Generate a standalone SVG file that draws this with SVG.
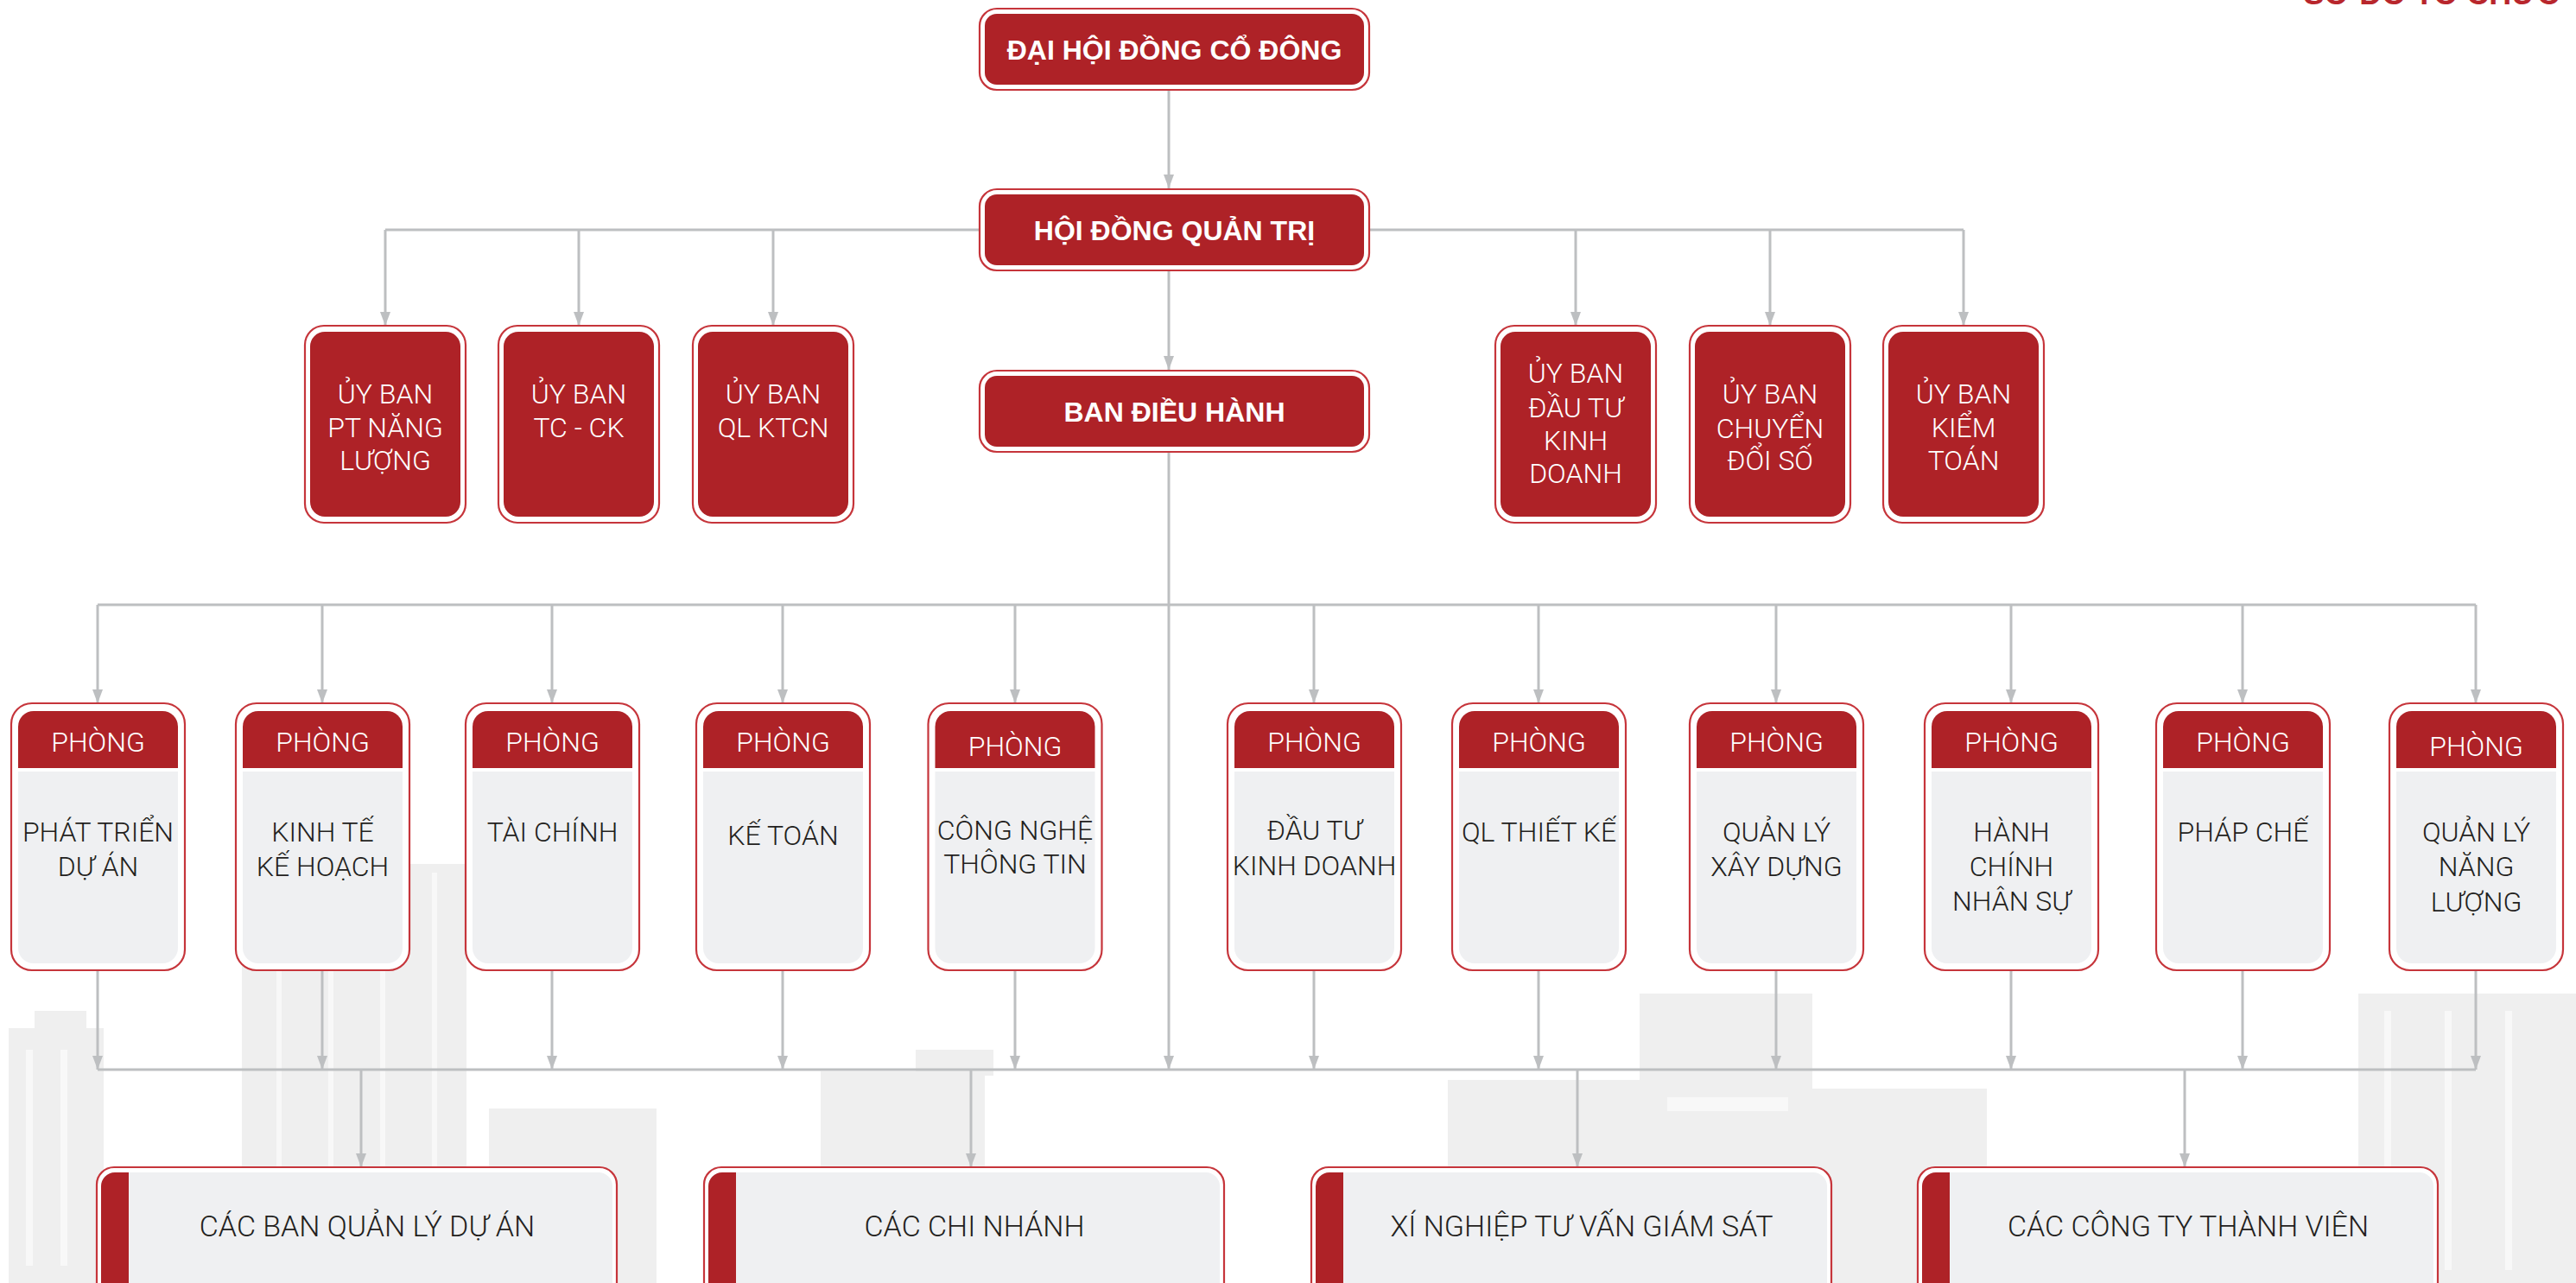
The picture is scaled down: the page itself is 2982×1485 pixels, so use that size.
<svg xmlns="http://www.w3.org/2000/svg" xmlns:xlink="http://www.w3.org/1999/xlink" width="2982" height="1485" viewBox="0 0 2982 1485">
<style>
.conn{stroke:#BDBFC1;stroke-width:3;fill:none}
.arr{marker-end:url(#ah)}
.outer{fill:#fff;stroke:#C6353B;stroke-width:2.2}
.red{fill:#AE2227}
.grey{fill:#EFF0F2}
.bg{fill:#EFEFEF}
.win{fill:#F8F8F8}
.tb{font-family:"Liberation Sans",Arial,sans-serif;font-weight:bold;font-size:32px;fill:#fff;text-anchor:middle}
.tw{font-family:Roboto,"Liberation Sans",sans-serif;font-weight:300;font-size:32px;fill:#fff;text-anchor:middle}
.td{font-family:Roboto,"Liberation Sans",sans-serif;font-weight:300;font-size:32px;fill:#231F20;text-anchor:middle}
.tl{font-family:Roboto,"Liberation Sans",sans-serif;font-weight:300;font-size:34px;fill:#231F20;text-anchor:middle}
.title{font-family:"Liberation Sans",Arial,sans-serif;font-weight:bold;font-size:36px;fill:#B8262C;text-anchor:end}
</style>
<defs>
<marker id="ah" markerUnits="userSpaceOnUse" markerWidth="16" markerHeight="14" viewBox="0 0 16 14" refX="16" refY="7" orient="auto">
<path d="M0,1 L16,7 L0,13 Z" fill="#BDBFC1"/>
</marker>
<g id="topShape">
<rect class="outer" x="1" y="1" width="451" height="94" rx="20"/>
<rect class="red" x="7" y="7" width="439" height="82" rx="14"/>
</g>
<g id="comShape">
<rect class="outer" x="1" y="377" width="186" height="228" rx="22"/>
<rect class="red" x="7" y="384" width="174" height="214" rx="17"/>
</g>
<g id="deptShape">
<rect class="outer" x="1" y="814" width="201" height="309" rx="24"/>
<path class="red" d="M9,889 v-48 a18,18 0 0 1 18,-18 h149 a18,18 0 0 1 18,18 v48 z"/>
<path class="grey" d="M9,893 h185 v204 a18,18 0 0 1 -18,18 h-149 a18,18 0 0 1 -18,-18 z"/>
</g>
<g id="botShape">
<rect class="outer" x="1" y="1351" width="602" height="170" rx="20"/>
<rect class="grey" x="6" y="1357" width="592" height="200" rx="16"/>
<path class="red" d="M38,1357 H22 a16,16 0 0 0 -16,16 V1560 H38 z"/>
</g>
</defs>

<g id="background">
<rect class="bg" x="10" y="1190" width="110" height="295"/>
<rect class="bg" x="40" y="1170" width="60" height="30"/>
<rect class="win" x="30" y="1215" width="8" height="250"/>
<rect class="win" x="70" y="1215" width="8" height="250"/>
<rect class="bg" x="280" y="1000" width="260" height="485"/>
<rect class="win" x="320" y="1010" width="6" height="460"/>
<rect class="win" x="380" y="1010" width="6" height="460"/>
<rect class="win" x="440" y="1010" width="6" height="460"/>
<rect class="win" x="500" y="1010" width="6" height="460"/>
<rect class="bg" x="566" y="1283" width="194" height="202"/>
<rect class="bg" x="950" y="1240" width="190" height="245"/>
<rect class="bg" x="1060" y="1215" width="90" height="30"/>
<rect class="bg" x="1676" y="1250" width="230" height="235"/>
<rect class="bg" x="1796" y="1260" width="504" height="225"/>
<rect class="bg" x="1898" y="1150" width="200" height="115"/>
<rect class="win" x="1930" y="1270" width="140" height="16"/>
<rect class="bg" x="2060" y="1320" width="180" height="165"/>
<rect class="bg" x="2730" y="1150" width="252" height="335"/>
<rect class="win" x="2760" y="1170" width="8" height="300"/>
<rect class="win" x="2830" y="1170" width="8" height="300"/>
<rect class="win" x="2900" y="1170" width="8" height="300"/>
</g>

<text class="title" x="2963" y="5">SƠ ĐỒ TỔ CHỨC</text>

<g id="connectors">
<path class="conn arr" d="M1353,105 V218"/>
<path class="conn arr" d="M1353,314 V428"/>
<path class="conn arr" d="M1353,523 V1238"/>
<path class="conn" d="M446,266 H2273"/>
<path class="conn arr" d="M446,266 V377"/>
<path class="conn arr" d="M670,266 V377"/>
<path class="conn arr" d="M895,266 V377"/>
<path class="conn arr" d="M1824,266 V377"/>
<path class="conn arr" d="M2049,266 V377"/>
<path class="conn arr" d="M2273,266 V377"/>
<path class="conn" d="M113,700 H2866"/>
<path class="conn arr" d="M113,700 V814"/>
<path class="conn arr" d="M373,700 V814"/>
<path class="conn arr" d="M639,700 V814"/>
<path class="conn arr" d="M906,700 V814"/>
<path class="conn arr" d="M1175,700 V814"/>
<path class="conn arr" d="M1521,700 V814"/>
<path class="conn arr" d="M1781,700 V814"/>
<path class="conn arr" d="M2056,700 V814"/>
<path class="conn arr" d="M2328,700 V814"/>
<path class="conn arr" d="M2596,700 V814"/>
<path class="conn arr" d="M2866,700 V814"/>
<path class="conn arr" d="M113,1123 V1238"/>
<path class="conn arr" d="M373,1123 V1238"/>
<path class="conn arr" d="M639,1123 V1238"/>
<path class="conn arr" d="M906,1123 V1238"/>
<path class="conn arr" d="M1175,1123 V1238"/>
<path class="conn arr" d="M1521,1123 V1238"/>
<path class="conn arr" d="M1781,1123 V1238"/>
<path class="conn arr" d="M2056,1123 V1238"/>
<path class="conn arr" d="M2328,1123 V1238"/>
<path class="conn arr" d="M2596,1123 V1238"/>
<path class="conn arr" d="M2866,1123 V1238"/>
<path class="conn" d="M113,1238 H2866"/>
<path class="conn arr" d="M418,1238 V1351"/>
<path class="conn arr" d="M1124,1238 V1351"/>
<path class="conn arr" d="M1826,1238 V1351"/>
<path class="conn arr" d="M2529,1238 V1351"/>
</g>

<g id="dhdcd" transform="translate(1133,9)">
<use xlink:href="#topShape"/>
<text class="tb" x="226.5" y="60">ĐẠI HỘI ĐỒNG CỔ ĐÔNG</text>
</g>
<g id="hdqt" transform="translate(1133,218)">
<use xlink:href="#topShape"/>
<text class="tb" x="226.5" y="60">HỘI ĐỒNG QUẢN TRỊ</text>
</g>
<g id="bdh" transform="translate(1133,428)">
<use xlink:href="#topShape"/>
<text class="tb" x="226.5" y="60">BAN ĐIỀU HÀNH</text>
</g>

<g id="ub-ptnl" transform="translate(352,0)">
<use xlink:href="#comShape"/>
<text class="tw"><tspan x="94" y="467">ỦY BAN</tspan><tspan x="94" y="506">PT NĂNG</tspan><tspan x="94" y="544">LƯỢNG</tspan></text>
</g>
<g id="ub-tcck" transform="translate(576,0)">
<use xlink:href="#comShape"/>
<text class="tw"><tspan x="94" y="467">ỦY BAN</tspan><tspan x="94" y="506">TC - CK</tspan></text>
</g>
<g id="ub-qlktcn" transform="translate(801,0)">
<use xlink:href="#comShape"/>
<text class="tw"><tspan x="94" y="467">ỦY BAN</tspan><tspan x="94" y="506">QL KTCN</tspan></text>
</g>
<g id="ub-dtkd" transform="translate(1730,0)">
<use xlink:href="#comShape"/>
<text class="tw"><tspan x="94" y="443">ỦY BAN</tspan><tspan x="94" y="483">ĐẦU TƯ</tspan><tspan x="94" y="521">KINH</tspan><tspan x="94" y="559">DOANH</tspan></text>
</g>
<g id="ub-cds" transform="translate(1955,0)">
<use xlink:href="#comShape"/>
<text class="tw"><tspan x="94" y="467">ỦY BAN</tspan><tspan x="94" y="507">CHUYỂN</tspan><tspan x="94" y="544">ĐỔI SỐ</tspan></text>
</g>
<g id="ub-kt" transform="translate(2179,0)">
<use xlink:href="#comShape"/>
<text class="tw"><tspan x="94" y="467">ỦY BAN</tspan><tspan x="94" y="506">KIỂM</tspan><tspan x="94" y="544">TOÁN</tspan></text>
</g>

<g id="p-ptda" transform="translate(12,0)">
<use xlink:href="#deptShape"/>
<text class="tw" x="101.5" y="870">PHÒNG</text>
<text class="td"><tspan x="101.5" y="974">PHÁT TRIỂN</tspan><tspan x="101.5" y="1014">DỰ ÁN</tspan></text>
</g>
<g id="p-ktkh" transform="translate(272,0)">
<use xlink:href="#deptShape"/>
<text class="tw" x="101.5" y="870">PHÒNG</text>
<text class="td"><tspan x="101.5" y="974">KINH TẾ</tspan><tspan x="101.5" y="1014">KẾ HOẠCH</tspan></text>
</g>
<g id="p-tc" transform="translate(538,0)">
<use xlink:href="#deptShape"/>
<text class="tw" x="101.5" y="870">PHÒNG</text>
<text class="td" x="101.5" y="974">TÀI CHÍNH</text>
</g>
<g id="p-kt" transform="translate(805,0)">
<use xlink:href="#deptShape"/>
<text class="tw" x="101.5" y="870">PHÒNG</text>
<text class="td" x="101.5" y="978">KẾ TOÁN</text>
</g>
<g id="p-cntt" transform="translate(1073.5,0)">
<use xlink:href="#deptShape"/>
<text class="tw" x="101.5" y="875">PHÒNG</text>
<text class="td"><tspan x="101.5" y="972">CÔNG NGHỆ</tspan><tspan x="101.5" y="1011">THÔNG TIN</tspan></text>
</g>
<g id="p-dtkd" transform="translate(1420,0)">
<use xlink:href="#deptShape"/>
<text class="tw" x="101.5" y="870">PHÒNG</text>
<text class="td"><tspan x="101.5" y="972">ĐẦU TƯ</tspan><tspan x="101.5" y="1013">KINH DOANH</tspan></text>
</g>
<g id="p-qltk" transform="translate(1680,0)">
<use xlink:href="#deptShape"/>
<text class="tw" x="101.5" y="870">PHÒNG</text>
<text class="td" x="101.5" y="974">QL THIẾT KẾ</text>
</g>
<g id="p-qlxd" transform="translate(1955,0)">
<use xlink:href="#deptShape"/>
<text class="tw" x="101.5" y="870">PHÒNG</text>
<text class="td"><tspan x="101.5" y="974">QUẢN LÝ</tspan><tspan x="101.5" y="1014">XÂY DỰNG</tspan></text>
</g>
<g id="p-hcns" transform="translate(2227,0)">
<use xlink:href="#deptShape"/>
<text class="tw" x="101.5" y="870">PHÒNG</text>
<text class="td"><tspan x="101.5" y="974">HÀNH</tspan><tspan x="101.5" y="1014">CHÍNH</tspan><tspan x="101.5" y="1054">NHÂN SỰ</tspan></text>
</g>
<g id="p-pc" transform="translate(2495,0)">
<use xlink:href="#deptShape"/>
<text class="tw" x="101.5" y="870">PHÒNG</text>
<text class="td" x="101.5" y="974">PHÁP CHẾ</text>
</g>
<g id="p-qlnl" transform="translate(2765,0)">
<use xlink:href="#deptShape"/>
<text class="tw" x="101.5" y="875">PHÒNG</text>
<text class="td"><tspan x="101.5" y="974">QUẢN LÝ</tspan><tspan x="101.5" y="1014">NĂNG</tspan><tspan x="101.5" y="1055">LƯỢNG</tspan></text>
</g>

<g id="b-bqlda" transform="translate(111,0)">
<use xlink:href="#botShape"/>
<text class="tl" x="314" y="1431">CÁC BAN QUẢN LÝ DỰ ÁN</text>
</g>
<g id="b-cn" transform="translate(814,0)">
<use xlink:href="#botShape"/>
<text class="tl" x="314" y="1431">CÁC CHI NHÁNH</text>
</g>
<g id="b-xntvgs" transform="translate(1517,0)">
<use xlink:href="#botShape"/>
<text class="tl" x="314" y="1431">XÍ NGHIỆP TƯ VẤN GIÁM SÁT</text>
</g>
<g id="b-ctytv" transform="translate(2219,0)">
<use xlink:href="#botShape"/>
<text class="tl" x="314" y="1431">CÁC CÔNG TY THÀNH VIÊN</text>
</g>
</svg>
